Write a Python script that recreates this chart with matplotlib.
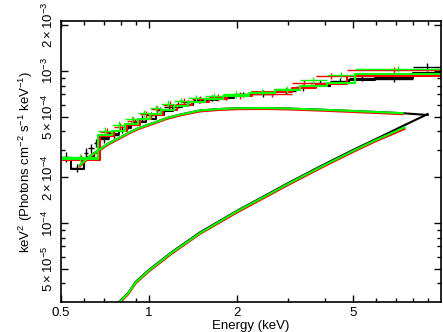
import matplotlib
matplotlib.use('Agg')
import matplotlib.pyplot as plt
import numpy as np
from matplotlib.ticker import FixedLocator, NullFormatter

plt.rcParams['font.family'] = ['Liberation Sans', 'DejaVu Sans']
plt.rcParams['mathtext.fontset'] = 'custom'
plt.rcParams['mathtext.rm'] = 'Liberation Sans'
plt.rcParams['mathtext.it'] = 'Liberation Sans'

# unfolded spectra: bin edges (keV), E^2 F data, errors and folded model (1e-4 units)
black_edges = [0.5, 0.54, 0.6, 0.62, 0.65, 0.67, 0.73, 0.79, 0.83, 0.87, 0.92, 0.98, 1.06,
               1.13, 1.21, 1.3, 1.42, 1.56, 1.72, 1.95, 2.25, 2.7, 3.2, 3.55, 4.16, 4.86, 5.93, 8.0, 10.0]
black_vals = [2.72, 2.3, 2.9, 3.1, 3.35, 3.55, 3.8, 4.1, 4.35, 4.6, 4.85, 5.1, 5.5,
              5.8, 6.0, 6.2, 6.45, 6.6, 6.75, 7.0, 7.1, 7.4, 7.8, 8.35, 8.6, 9.0, 8.9, 10.6]
black_errs = [0.2, 0.15, 0.2, 0.2, 0.2, 0.2, 0.2, 0.22, 0.22, 0.22, 0.25, 0.25, 0.25,
              0.25, 0.28, 0.28, 0.3, 0.3, 0.3, 0.3, 0.35, 0.35, 0.4, 0.4, 0.45, 0.45, 0.5, 0.6]
black_model = [2.62, 2.25, 2.62, 2.7, 2.9, 3.6, 3.85, 4.0, 4.2, 4.4, 4.6, 4.85, 5.15,
               5.45, 5.75, 6.0, 6.25, 6.45, 6.65, 6.9, 7.15, 7.45, 7.7, 7.95, 8.3, 8.7, 9.0, 9.7]

red_edges = [0.5, 0.68, 0.76, 0.84, 0.93, 1.02, 1.12, 1.25, 1.4, 1.6, 1.85, 2.26, 3.08, 3.74, 4.75, 10.0]
red_vals = [2.65, 3.95, 4.3, 4.7, 5.2, 5.6, 6.0, 6.3, 6.5, 6.7, 6.9, 7.05, 8.3, 9.27, 10.1]
red_errs = [0.15, 0.25, 0.25, 0.25, 0.28, 0.3, 0.3, 0.3, 0.32, 0.35, 0.35, 0.35, 0.4, 0.45, 0.5]
red_model = [2.58, 3.75, 4.05, 4.4, 4.8, 5.15, 5.55, 5.95, 6.25, 6.55, 6.85, 7.3, 7.75, 8.2, 9.3]

green_edges = [0.5, 0.67, 0.75, 0.83, 0.92, 1.01, 1.1, 1.22, 1.36, 1.55, 1.8, 2.2, 2.7, 3.28, 4.06, 5.06, 10.0]
green_vals = [2.7, 4.05, 4.4, 4.8, 5.25, 5.7, 6.1, 6.35, 6.6, 6.8, 7.0, 7.3, 7.6, 8.7, 9.4, 10.3]
green_errs = [0.15, 0.25, 0.25, 0.25, 0.28, 0.3, 0.3, 0.3, 0.32, 0.35, 0.35, 0.35, 0.4, 0.4, 0.45, 0.5]
green_model = [2.65, 3.8, 4.05, 4.45, 4.85, 5.2, 5.55, 5.9, 6.2, 6.5, 6.8, 7.15, 7.5, 7.95, 8.35, 9.5]

# soft (absorbed) component
comp1_e = [0.58, 0.62, 0.67, 0.73, 0.79, 0.86, 0.92, 1.0, 1.06, 1.15, 1.3, 1.5, 1.75, 2.0, 2.5, 3.0, 4.0, 5.0, 6.0, 7.4, 9.0]
comp1_black = [2.4, 2.7, 3.0, 3.35, 3.62, 3.95, 4.2, 4.45, 4.62, 4.9, 5.2, 5.5, 5.62, 5.68, 5.7, 5.66, 5.55, 5.45, 5.37, 5.27, 5.13]
comp1_red = [2.36, 2.66, 2.96, 3.3, 3.57, 3.9, 4.14, 4.39, 4.56, 4.83, 5.13, 5.42, 5.54, 5.6, 5.62, 5.58, 5.47, 5.37, 5.29, 5.19]
comp1_green = [2.4, 2.7, 3.0, 3.35, 3.62, 3.95, 4.2, 4.45, 4.62, 4.9, 5.2, 5.5, 5.62, 5.68, 5.7, 5.66, 5.55, 5.45, 5.37, 5.27]

# hard power-law component
comp2_e = [0.79, 0.85, 0.9, 1.0, 1.2, 1.5, 2.0, 3.0, 4.0, 5.0, 6.0, 7.5, 9.0]
comp2_black = [0.302, 0.347, 0.409, 0.491, 0.645, 0.87, 1.2, 1.83, 2.44, 3.02, 3.57, 4.4, 5.2]
comp2_red = [0.295, 0.34, 0.40, 0.48, 0.63, 0.85, 1.17, 1.78, 2.37, 2.93, 3.46, 4.15]
comp2_green = [0.30, 0.345, 0.405, 0.487, 0.64, 0.86, 1.19, 1.81, 2.41, 2.98, 3.52, 4.25]

fig = plt.figure(figsize=(4.43, 3.32), dpi=100)
ax = fig.add_axes([0.1377, 0.0904, 0.8578, 0.8463])


def draw_set(edges, vals, errs, model, comp1, comp2, color):
    edges = np.array(edges)
    vals = np.array(vals) * 1e-4
    errs = np.array(errs) * 1e-4
    centers = np.sqrt(edges[:-1] * edges[1:])
    ax.errorbar(centers, vals, yerr=errs,
                xerr=[centers - edges[:-1], edges[1:] - centers],
                fmt='none', ecolor=color, elinewidth=1.0, capsize=0)
    m = np.array(model) * 1e-4
    ax.step(edges, np.append(m, m[-1]), where='post', color=color, lw=1.5)
    ax.plot(comp1_e[:len(comp1)], np.array(comp1) * 1e-4, color=color, lw=1.5)
    ax.plot(comp2_e[:len(comp2)], np.array(comp2) * 1e-4, color=color, lw=1.5)


draw_set(black_edges, black_vals, black_errs, black_model, comp1_black, comp2_black, 'black')
draw_set(red_edges, red_vals, red_errs, red_model, comp1_red, comp2_red, 'red')
draw_set(green_edges, green_vals, green_errs, green_model, comp1_green, comp2_green, '#00ff00')

ax.set_xscale('log')
ax.set_yscale('log')
ax.set_xlim(0.5, 10)
ax.set_ylim(3.02e-5, 2.13e-3)

xmaj = [0.5, 1, 2, 5]
xlab = ['0.5', '1', '2', '5']
xmin_ = [0.6, 0.7, 0.8, 0.9, 3, 4, 6, 7, 8, 9]
ymaj = [5e-5, 1e-4, 2e-4, 5e-4, 1e-3, 2e-3]
ylab = [r'$\mathregular{5\times10^{-5}}$', r'$\mathregular{10^{-4}}$', r'$\mathregular{2\times10^{-4}}$',
        r'$\mathregular{5\times10^{-4}}$', r'$\mathregular{10^{-3}}$', r'$\mathregular{2\times10^{-3}}$']
ymin_ = [k * 10.0 ** p for p in (-5, -4, -3) for k in range(2, 10)]
ymin_ = [v for v in ymin_ if v not in ymaj]

ax.xaxis.set_major_locator(FixedLocator(xmaj))
ax.set_xticklabels(xlab)
ax.xaxis.set_minor_locator(FixedLocator(xmin_))
ax.xaxis.set_minor_formatter(NullFormatter())
ax.yaxis.set_major_locator(FixedLocator(ymaj))
ax.set_yticklabels(ylab, rotation=90, va='center')
ax.yaxis.set_minor_locator(FixedLocator(ymin_))
ax.yaxis.set_minor_formatter(NullFormatter())

ax.tick_params(which='both', direction='in', top=True, right=True, labelsize=9.5, width=1.0)
ax.tick_params(which='major', length=5)
ax.tick_params(which='minor', length=3)
for s in ax.spines.values():
    s.set_linewidth(1.2)

ax.set_xlabel('Energy (keV)', fontsize=9.5, labelpad=1)
ax.set_ylabel(r'$\mathregular{keV^2\ (Photons\ cm^{-2}\ s^{-1}\ keV^{-1})}$', fontsize=9.5, labelpad=4)

fig.savefig('out.png', dpi=100)
